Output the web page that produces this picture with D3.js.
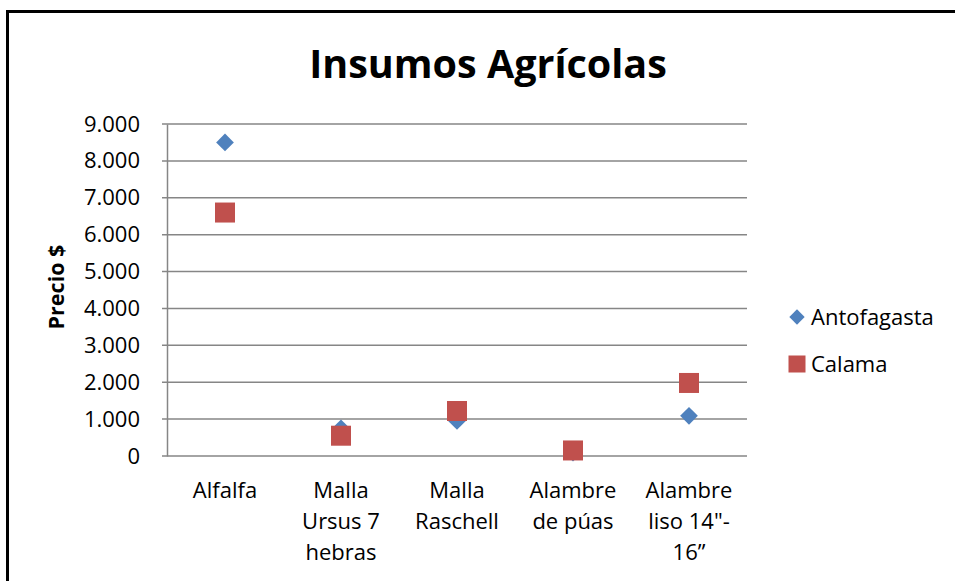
<!DOCTYPE html>
<html>
<head>
<meta charset="utf-8">
<script src="https://cdn.jsdelivr.net/npm/d3@7"></script>
<style>
  body { margin: 0; background: #fff; }
  svg { display: block; font-family: "Open Sans", "Noto Sans", sans-serif; }
</style>
</head>
<body>
<div class="chart"></div>
<script>
// data
const categories = ["Alfalfa", "Malla Ursus 7 hebras", "Malla Raschell", "Alambre de púas", "Alambre liso 14\"-16”"];
const categoryLines = [
    ["Alfalfa"],
    ["Malla", "Ursus 7", "hebras"],
    ["Malla", "Raschell"],
    ["Alambre", "de púas"],
    ["Alambre", "liso 14\"-", "16”"]
];
const antofagasta = [8500, 750, 950, 90, 1090];
const calama = [6600, 550, 1220, 150, 1980];
const yTicks = [0, 1000, 2000, 3000, 4000, 5000, 6000, 7000, 8000, 9000];
const seriesNames = ["Antofagasta", "Calama"];

const W = 955, H = 581;
const margin = ({top: 124, right: 208, bottom: 125, left: 167});
const width = W - margin.left - margin.right,
      height = H - margin.top - margin.bottom;

const svg = d3.select(".chart")
              .append("svg")
              .attr("width", W)
              .attr("height", H);

// outer frame (runs off the right and bottom edges)
svg.append("rect")
   .attr("x", 7.5).attr("y", 11.5)
   .attr("width", 1000).attr("height", 1000)
   .attr("fill", "none")
   .attr("stroke", "#000")
   .attr("stroke-width", 3);

svg.append("text")
   .attr("x", 488).attr("y", 78)
   .attr("text-anchor", "middle")
   .attr("font-weight", "bold")
   .attr("font-size", 39.5)
   .text("Insumos Agrícolas");

const g = svg.append("g")
             .attr("transform", `translate(${margin.left},${margin.top})`);

const xScale = d3.scaleBand()
                 .domain(categories)
                 .range([0, width]);
const yScale = d3.scaleLinear()
                 .domain([0, 9000])
                 .range([height, 0]);

// gridlines
g.append("g")
 .selectAll("line")
 .data(yTicks)
 .join("line")
 .attr("x1", -5).attr("x2", width)
 .attr("y1", d => yScale(d)).attr("y2", d => yScale(d))
 .attr("stroke", "#868686")
 .attr("stroke-width", 1.5);

const yAxis = d3.axisLeft(yScale)
                .tickValues(yTicks)
                .tickSize(0)
                .tickPadding(27)
                .tickFormat(d => d3.format(",")(d).replace(/,/g, "."));
const drawY = g.append("g").attr("class", "axis y-axis").call(yAxis);
drawY.select(".domain").attr("stroke", "#868686").attr("stroke-width", 1.5);
drawY.selectAll("text")
     .attr("font-size", 22)
     .attr("fill", "#000")
     .attr("font-family", "Open Sans");

// x axis labels, wrapped as in the picture
const xl = g.append("g")
            .attr("class", "axis x-axis")
            .attr("transform", `translate(0,${height})`);
xl.selectAll("text")
  .data(categories)
  .join("text")
  .attr("x", d => xScale(d) + xScale.bandwidth() / 2)
  .attr("text-anchor", "middle")
  .attr("font-size", 22)
  .selectAll("tspan")
  .data((d, i) => categoryLines[i])
  .join("tspan")
  .attr("x", function() { return this.parentNode.getAttribute("x"); })
  .attr("y", (d, i) => 42 + i * 31)
  .text(d => d);

svg.append("text")
   .attr("transform", "translate(64,287) rotate(-90)")
   .attr("text-anchor", "middle")
   .attr("font-weight", "bold")
   .attr("font-size", 21.5)
   .text("Precio $");

const cx = d => xScale(d) + xScale.bandwidth() / 2;
const diamond = d3.symbol().type(d3.symbolDiamond2).size(200);

g.append("g")
 .selectAll("path")
 .data(categories)
 .join("path")
 .attr("d", diamond)
 .attr("transform", (d, i) => `translate(${cx(d)},${yScale(antofagasta[i])})`)
 .attr("fill", "#4F81BD");

g.append("g")
 .selectAll("rect")
 .data(categories)
 .join("rect")
 .attr("x", d => cx(d) - 10)
 .attr("y", (d, i) => yScale(calama[i]) - 10)
 .attr("width", 20).attr("height", 20)
 .attr("fill", "#C0504D");

// legend
const legend = svg.append("g").attr("transform", "translate(797,0)");
const ly = [317, 364];
legend.append("path")
      .attr("d", d3.symbol().type(d3.symbolDiamond2).size(150))
      .attr("transform", `translate(0,${ly[0]})`)
      .attr("fill", "#4F81BD");
legend.append("rect")
      .attr("x", -8.5).attr("y", ly[1] - 8.5)
      .attr("width", 17).attr("height", 17)
      .attr("fill", "#C0504D");
legend.selectAll("text")
      .data(seriesNames)
      .join("text")
      .attr("x", 14)
      .attr("y", (d, i) => ly[i] + 8)
      .attr("font-size", 22)
      .text(d => d);
</script>
</body>
</html>
